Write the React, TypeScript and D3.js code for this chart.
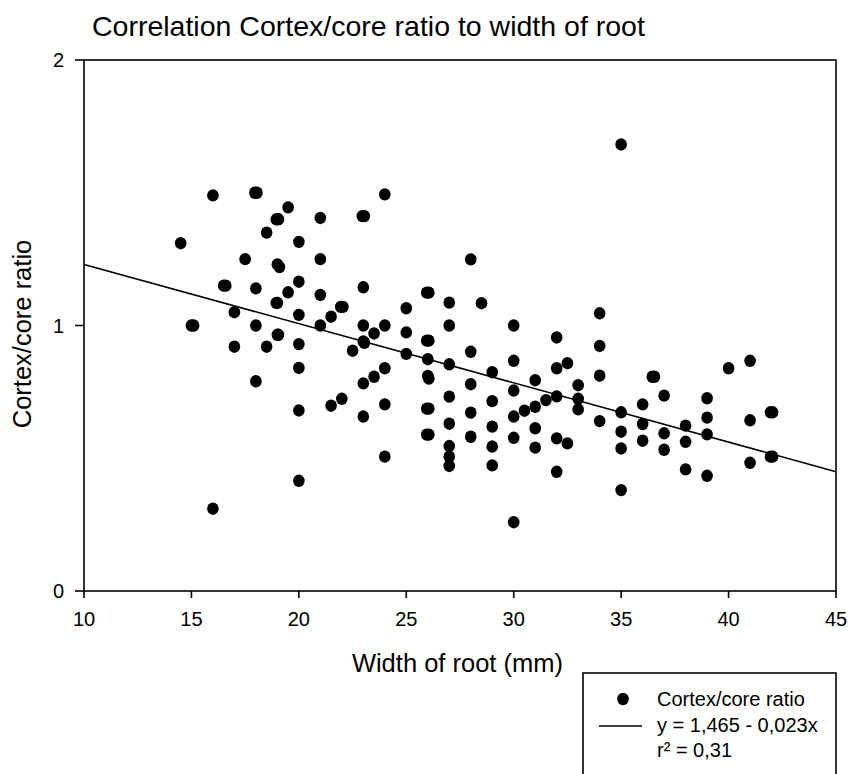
import React from "react";
import * as d3 from "d3";

// Width of root (mm)
const xValues: number[] = [
  14.5, 15, 15.1, 16, 16, 16.5, 16.6, 17, 17, 17.5,
  17.95, 18.05, 18, 18, 18, 18.5, 18.5,
  18.95, 19.05, 19, 19, 19, 19.1, 18.95, 19.05, 19.5, 19.5,
  20, 20, 20, 20, 20, 20, 20,
  21, 21, 21, 21, 21.5, 21.5, 21.95, 22.05, 22, 22.5,
  22.95, 23.05, 23, 23, 23, 23.05, 23, 23,
  23.5, 23.5, 24, 24, 24, 24, 24,
  25, 25, 25,
  25.95, 26.05, 25.95, 26.05, 26, 26, 26.05, 25.95, 26.05, 25.95, 26.05,
  27, 27, 27, 27, 27, 27, 27, 27,
  28, 28, 28, 28, 28, 28.5,
  29, 29, 29, 29, 29,
  30, 30, 30, 30, 30, 30, 30.5,
  31, 31, 31, 31, 31.5,
  32, 32, 32, 32, 32, 32.5, 32.5,
  33, 33, 33,
  34, 34, 34, 34,
  35, 35, 35, 35, 35,
  36, 36, 36, 36.45, 36.55,
  37, 37, 37,
  38, 38, 38,
  39, 39, 39, 39,
  40,
  41, 41, 41,
  41.95, 42.05, 41.95, 42.05,
];

// Cortex/core ratio
const yValues: number[] = [
  1.31, 1.0, 1.0, 1.49, 0.31, 1.15, 1.15, 1.05, 0.92, 1.25,
  1.5, 1.5, 1.14, 1.0, 0.79, 1.35, 0.92,
  1.4, 1.4, 1.23, 1.085, 0.965, 1.22, 1.085, 0.965, 1.445, 1.125,
  1.315, 1.165, 1.04, 0.93, 0.84, 0.68, 0.415,
  1.405, 1.25, 1.115, 1.0, 1.033, 0.698, 1.07, 1.07, 0.724, 0.905,
  1.412, 1.412, 1.144, 1.0, 0.94, 0.935, 0.782, 0.657,
  0.97, 0.807, 1.494, 1.0, 0.839, 0.703, 0.506,
  1.065, 0.974, 0.893,
  1.124, 1.124, 0.943, 0.943, 0.873, 0.81, 0.8, 0.687, 0.687, 0.589, 0.589,
  1.086, 1.0, 0.854, 0.732, 0.63, 0.546, 0.506, 0.471,
  1.249, 0.901, 0.779, 0.672, 0.581, 1.084,
  0.824, 0.715, 0.619, 0.544, 0.473,
  1.0, 0.867, 0.755, 0.657, 0.577, 0.259, 0.679,
  0.794, 0.694, 0.613, 0.54, 0.719,
  0.955, 0.839, 0.733, 0.575, 0.449, 0.858, 0.556,
  0.775, 0.724, 0.684,
  1.046, 0.923, 0.811, 0.64,
  1.682, 0.673, 0.6, 0.537, 0.38,
  0.703, 0.629, 0.566, 0.807, 0.807,
  0.736, 0.594, 0.532,
  0.623, 0.562, 0.458,
  0.726, 0.653, 0.59, 0.434,
  0.839,
  0.867, 0.643, 0.483,
  0.673, 0.673, 0.506, 0.506,
];

const xTicks: number[] = [10, 15, 20, 25, 30, 35, 40, 45];
const yTicks: number[] = [0, 1, 2];

// Regression line as drawn in the picture
const lineIntercept = 1.453;
const lineSlope = -0.0223;
const lineXDomain: number[] = [10, 45];

const titleText = "Correlation Cortex/core ratio to width of root";
const xLabel = "Width of root (mm)";
const yLabel = "Cortex/core ratio";
const legendSeries = "Cortex/core ratio";
const legendEquation = "y = 1,465 - 0,023x";
const legendR2 = "r\u00B2 = 0,31";

const FONT = "'Liberation Sans', Arial, Helvetica, sans-serif";

export default function App() {
  const width = 848;
  const height = 774;
  const left = 84;
  const right = 836;
  const top = 60;
  const bottom = 591;

  const x = d3.scaleLinear().domain([10, 45]).range([left, right]);
  const y = d3.scaleLinear().domain([0, 2]).range([bottom, top]);

  const lineGen = d3
    .line<number>()
    .x((d) => x(d))
    .y((d) => y(lineIntercept + lineSlope * d));

  const points = xValues.map((xv, i) => ({ x: xv, y: yValues[i] }));

  return (
    <svg
      width={width}
      height={height}
      viewBox={`0 0 ${width} ${height}`}
      style={{ position: "absolute", left: 0, top: 0, background: "#fff" }}
      fontFamily={FONT}
    >
      <rect x={0} y={0} width={width} height={height} fill="#fff" />
      <text x={92} y={36} fontSize={28.5} fill="#000">
        {titleText}
      </text>

      {/* frame */}
      <rect
        x={left}
        y={top}
        width={right - left}
        height={bottom - top}
        fill="none"
        stroke="#000"
        strokeWidth={1.6}
      />

      {/* x ticks */}
      {xTicks.map((t) => (
        <g key={`xt${t}`}>
          <line x1={x(t)} x2={x(t)} y1={bottom} y2={bottom + 7} stroke="#000" strokeWidth={1.6} />
          <text x={x(t)} y={626} fontSize={20} textAnchor="middle" fill="#000">
            {t}
          </text>
        </g>
      ))}

      {/* y ticks */}
      {yTicks.map((t) => (
        <g key={`yt${t}`}>
          <line x1={left - 9} x2={left} y1={y(t)} y2={y(t)} stroke="#000" strokeWidth={1.6} />
          <text x={64} y={y(t) + 7} fontSize={20} textAnchor="end" fill="#000">
            {t}
          </text>
        </g>
      ))}

      <text x={563} y={672} fontSize={25.5} textAnchor="end" fill="#000">
        {xLabel}
      </text>
      <text
        transform={`translate(31, 334) rotate(-90)`}
        fontSize={25.5}
        textAnchor="middle"
        fill="#000"
      >
        {yLabel}
      </text>

      {/* regression line */}
      <path d={lineGen(lineXDomain) || ""} fill="none" stroke="#000" strokeWidth={1.6} />

      {/* points */}
      {points.map((p, i) => (
        <ellipse key={i} cx={x(p.x)} cy={y(p.y)} rx={5.8} ry={6.2} fill="#000" />
      ))}

      {/* legend */}
      <rect x={583} y={673} width={253} height={130} fill="#fff" stroke="#000" strokeWidth={1.6} />
      <ellipse cx={623} cy={699} rx={5.8} ry={6.2} fill="#000" />
      <text x={657} y={706} fontSize={20} fill="#000">
        {legendSeries}
      </text>
      <line x1={599} x2={642} y1={726} y2={726} stroke="#000" strokeWidth={1.6} />
      <text x={657} y={732} fontSize={20} fill="#000">
        {legendEquation}
      </text>
      <text x={657} y={757} fontSize={20} fill="#000">
        {legendR2}
      </text>
    </svg>
  );
}
